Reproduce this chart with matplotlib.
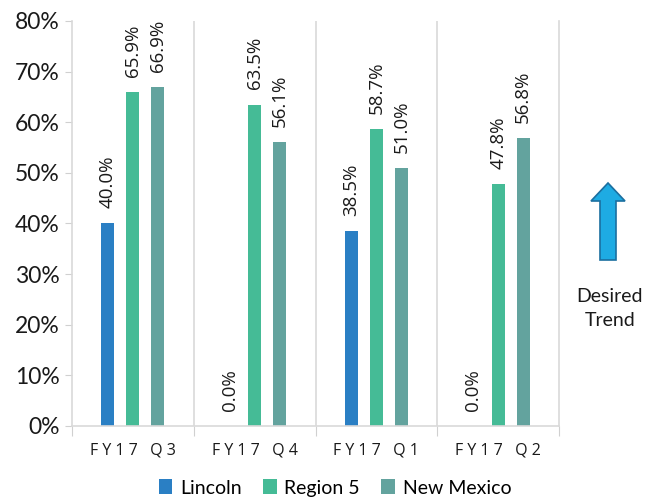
import numpy as np
import matplotlib
matplotlib.use("Agg")
import matplotlib.pyplot as plt
from matplotlib.patches import Polygon

# data
quarters = ["F Y 1 7   Q 3", "F Y 1 7   Q 4", "F Y 1 7   Q 1", "F Y 1 7   Q 2"]
lincoln = [40.0, 0.0, 38.5, 0.0]
region5 = [65.9, 63.5, 58.7, 47.8]
new_mexico = [66.9, 56.1, 51.0, 56.8]
series_names = ["Lincoln", "Region 5", "New Mexico"]
colors = ["#2A7FC4", "#45BB96", "#63A39E"]

fig = plt.figure(figsize=(6.58, 5), dpi=100)
ax = fig.add_axes([72 / 658, 1 - 426 / 500, (559 - 72) / 658, (426 - 21) / 500])

x = np.arange(len(quarters))
width = 0.107
offs = [-0.205, 0, 0.205]
for vals, off, col, name in zip([lincoln, region5, new_mexico], offs, colors, series_names):
    ax.bar(x + off, vals, width, color=col, label=name)
    for xi, v in zip(x, vals):
        ax.annotate(f"{v:.1f}%", (xi + off, v), xytext=(0, 11), textcoords="offset points",
                    rotation=90, ha="center", va="bottom", fontsize=13.5,
                    family="Open Sans", color="#1a1a1a")

ax.set_xlim(-0.5, 3.5)
ax.set_ylim(0, 80)
ax.set_yticks(np.arange(0, 81, 10))
ax.set_yticklabels([f"{t}%" for t in range(0, 81, 10)], family="Lato", fontsize=16.5,
                   color="#1a1a1a")

ax.set_xticks(np.arange(-0.5, 3.6, 1))
ax.set_xticklabels([])
ax.set_xticks(x, minor=True)
ax.set_xticklabels(quarters, minor=True, family="Open Sans", fontsize=11.5, color="#1a1a1a")
ax.tick_params(axis="x", which="major", length=7, color="#d0d0d0", direction="out")
ax.tick_params(axis="x", which="minor", length=0, pad=12)
ax.tick_params(axis="y", length=5, color="#d0d0d0", pad=4)

for b in np.arange(0.5, 3.0, 1):
    ax.axvline(b, color="#d9d9d9", lw=1.2, zorder=0)
ax.spines["top"].set_visible(False)
for s in ["left", "right", "bottom"]:
    ax.spines[s].set_color("#d9d9d9")
    ax.spines[s].set_linewidth(1.2)

fig.legend(loc="center", bbox_to_anchor=(335 / 658, 1 - 488 / 500), ncol=3, frameon=False,
           prop={"family": "Lato", "size": 14}, handlelength=0.7, handleheight=0.8,
           handletextpad=0.4, columnspacing=1.1, borderaxespad=0, borderpad=0)

# desired trend arrow (pixel coords -> inches)
pts = [(600, 260), (616, 260), (616, 201), (625, 201), (608, 183), (591, 201), (600, 201)]
arrow = Polygon([(px / 100, (500 - py) / 100) for px, py in pts], closed=True,
                transform=fig.dpi_scale_trans, facecolor="#1EABE3", edgecolor="#1B6FA0", lw=1.2)
fig.patches.append(arrow)
fig.text(610 / 658, 1 - 308 / 500, "Desired\nTrend", ha="center", va="center",
         family="Lato", fontsize=14, linespacing=1.5, color="#1a1a1a")

fig.savefig("out.png", dpi=100)
